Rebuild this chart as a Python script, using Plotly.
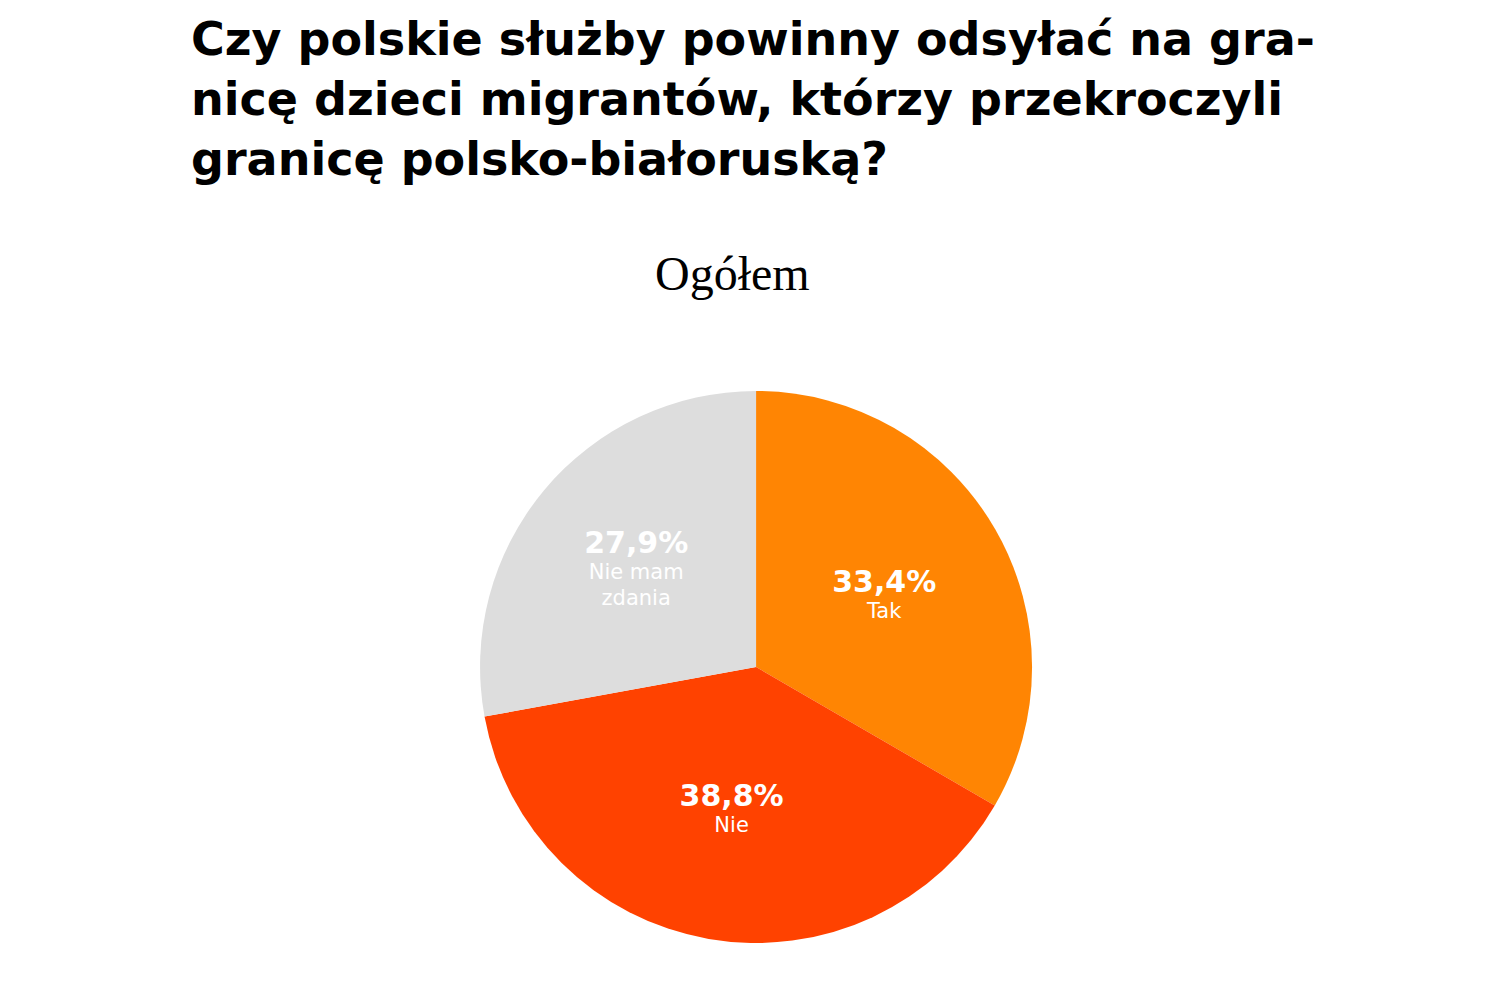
import plotly.graph_objects as go

labels = ["Tak", "Nie", "Nie mam<br>zdania"]
values = [33.4, 38.8, 27.9]
value_text = ["33,4%", "38,8%", "27,9%"]
colors = ["#FF8503", "#FF4200", "#DDDDDD"]

title_text = ("Czy polskie służby powinny odsyłać na gra-<br>"
              "nicę dzieci migrantów, którzy przekroczyli<br>"
              "granicę polsko-białoruską?")
subtitle_text = "Ogółem"

texts = []
for v, l in zip(value_text, labels):
    lab = l.replace("<br>", "</span><br><span style='font-size:21px'>")
    texts.append(f"<span style='font-size:30px;font-weight:bold'>{v}</span><br>"
                 f"<span style='font-size:21px'>{lab}</span>")

fig = go.Figure(go.Pie(
    labels=labels,
    values=values,
    text=texts,
    textinfo="text",
    textposition="inside",
    insidetextorientation="horizontal",
    sort=False,
    direction="clockwise",
    rotation=0,
    marker=dict(colors=colors, line=dict(width=0)),
    textfont=dict(family="DejaVu Sans", size=20, color="white"),
    domain=dict(x=[0.3147, 0.6827], y=[0.065, 0.617]),
    showlegend=False,
    hoverinfo="label+percent",
))

fig.add_annotation(
    text="<b>" + title_text + "</b>",
    xref="paper", yref="paper", x=0.1207, y=0.998,
    xanchor="left", yanchor="top", align="left", showarrow=False,
    font=dict(family="DejaVu Sans", size=46, color="#000000"),
)
fig.add_annotation(
    text=subtitle_text,
    xref="paper", yref="paper", x=0.4833, y=0.763,
    xanchor="center", yanchor="top", showarrow=False,
    font=dict(family="Liberation Serif", size=48, color="#000000"),
)

fig.update_layout(
    width=1500, height=1000,
    margin=dict(l=0, r=0, t=0, b=0),
    paper_bgcolor="white", plot_bgcolor="white",
)

fig.write_html("out.html")
